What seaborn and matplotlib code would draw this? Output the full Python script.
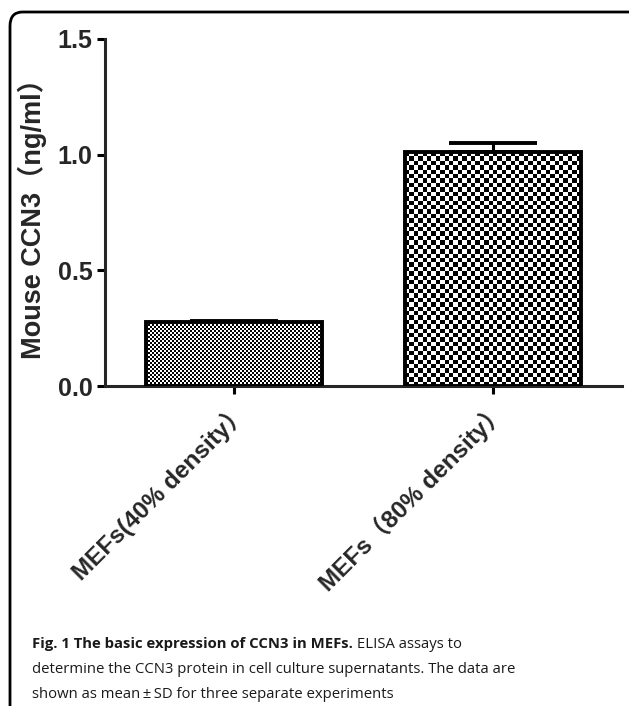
import numpy as np
import pandas as pd
import matplotlib
matplotlib.use('Agg')
import matplotlib.pyplot as plt
from matplotlib.patches import FancyBboxPatch
import seaborn as sns

# Data
groups = ['MEFs(40% density）', 'MEFs（80% density）']
means = [0.275, 1.01]
sds = [0.004, 0.04]
yticks = [0.0, 0.5, 1.0, 1.5]
ylabel = 'Mouse CCN3（ng/ml）'
caption_bold = 'Fig. 1 The basic expression of CCN3 in MEFs.'
caption_rest = [' ELISA assays to',
                'determine the CCN3 protein in cell culture supernatants. The data are',
                'shown as mean\u2009±\u2009SD for three separate experiments']
checker_px = [2, 4.4]  # checker square size in pixels per bar

sns.set_style('ticks')
plt.rcParams['font.family'] = ['Liberation Sans', 'Noto Sans CJK SC']

df = pd.DataFrame({'group': groups, 'value': means})

fig = plt.figure(figsize=(6.29, 7.06), dpi=100)
ax = fig.add_axes([105 / 629, 1 - 386 / 706, (622 - 105) / 629, (386 - 39) / 706])

sns.barplot(data=df, x='group', y='value', errorbar=None, width=0.68,
            color='white', ax=ax)
ax.set_xlim(-0.5, 1.5)
ax.set_ylim(0, 1.5)

# upper-only error bars (GraphPad style)
ax.errorbar(range(len(means)), means, yerr=[np.zeros(len(sds)), sds],
            fmt='none', ecolor='black', elinewidth=2.2, capsize=32,
            capthick=2.8, zorder=2)

# checkerboard fill, clipped to each bar
fig.canvas.draw()
for p, s in zip(ax.patches, checker_px):
    x0, y0 = p.get_x(), p.get_y()
    w, h = p.get_width(), p.get_height()
    (px0, py0), (px1, py1) = ax.transData.transform([(x0, y0), (x0 + w, y0 + h)])
    nx = max(int(round((px1 - px0) / s)), 1)
    ny = max(int(round((py1 - py0) / s)), 1)
    img = (np.add.outer(np.arange(ny), np.arange(nx)) % 2).astype(float)
    im = ax.imshow(img, cmap='gray', extent=(x0, x0 + w, y0, y0 + h),
                   interpolation='nearest', aspect='auto', zorder=2.5,
                   vmin=0, vmax=1)
    im.set_clip_path(p)
    p.set_facecolor('none')
    p.set_edgecolor('black')
    p.set_linewidth(2.8)
    p.set_zorder(3)

ax.set_xlim(-0.5, 1.5)
ax.set_ylim(0, 1.5)
ax.set_yticks(yticks)
ax.set_yticklabels(['%.1f' % v for v in yticks], fontsize=18, fontweight='bold')
ax.set_xticks(range(len(groups)))
ax.set_xticklabels(groups, rotation=45, ha='right', rotation_mode='anchor',
                   fontsize=17.5, fontweight='bold')
ax.set_xlabel('')
ax.set_ylabel(ylabel, fontsize=19.5, fontweight='bold', labelpad=8)
sns.despine(ax=ax)
for side in ['left', 'bottom']:
    ax.spines[side].set_linewidth(2.2)
ax.tick_params(axis='both', width=2.2, length=6, color='black', pad=3)

# rounded frame around the figure panel
frame = FancyBboxPatch((10 / 629, -0.05), 640 / 629, 1 - 12 / 706 + 0.05,
                       boxstyle='round,pad=0,rounding_size=0.02',
                       transform=fig.transFigure, fill=False,
                       edgecolor='black', linewidth=2)
fig.add_artist(frame)

# caption
cap_kw = dict(fontsize=10.7, family=['Open Sans', 'DejaVu Sans'], color='#1a1a1a',
              va='baseline')
t = fig.text(32 / 629, 1 - 648 / 706, caption_bold, fontweight='bold', **cap_kw)
fig.canvas.draw()
bb = t.get_window_extent()
fig.text(bb.x1 / fig.bbox.width, 1 - 648 / 706, caption_rest[0], **cap_kw)
fig.text(32 / 629, 1 - 673 / 706, caption_rest[1], **cap_kw)
fig.text(32 / 629, 1 - 698 / 706, caption_rest[2], **cap_kw)

fig.savefig('out.png', dpi=100)
